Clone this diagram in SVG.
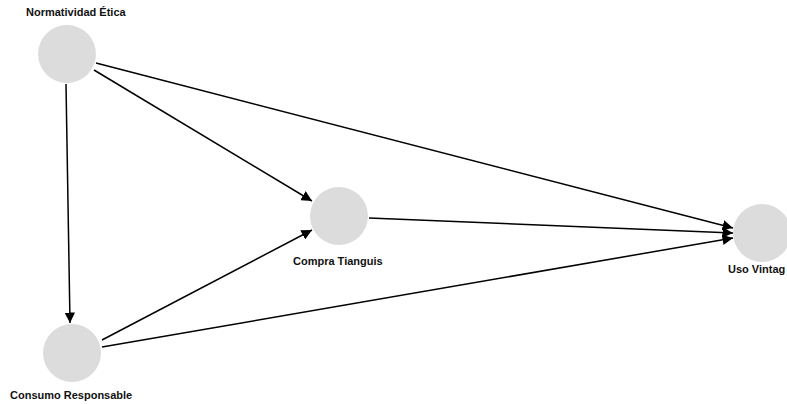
<svg xmlns="http://www.w3.org/2000/svg" width="787" height="404" viewBox="0 0 787 404">
  <style>
    .node { fill: #dcdcdc; }
    .lbl { font-family: "Liberation Sans", Arial, sans-serif; font-size: 11px; font-weight: bold; fill: #111; }
    .edge { stroke: #000; stroke-width: 1.5; fill: none; marker-end: url(#arrow); }
  </style>
  <defs>
    <marker id="arrow" viewBox="0 0 10 10" refX="10" refY="5" markerWidth="7" markerHeight="7" markerUnits="strokeWidth" orient="auto">
      <path d="M0,0 L10,5 L0,10 z" fill="#000"/>
    </marker>
  </defs>
  <rect width="787" height="404" fill="#fff"/>
  <g id="connectors">
    <line class="edge" x1="66" y1="84" x2="70" y2="323"/>
    <line class="edge" x1="94" y1="70" x2="312" y2="201"/>
    <line class="edge" x1="96" y1="63" x2="733" y2="228"/>
    <line class="edge" x1="369" y1="218" x2="733" y2="233"/>
    <line class="edge" x1="102" y1="340" x2="312" y2="230"/>
    <line class="edge" x1="102" y1="347" x2="733" y2="238"/>
  </g>
  <g id="normatividad">
    <circle class="node" cx="67" cy="54" r="29"/>
    <text class="lbl" x="26" y="16">Normatividad Ética</text>
  </g>
  <g id="consumo">
    <circle class="node" cx="72" cy="353" r="29"/>
    <text class="lbl" x="10" y="399">Consumo Responsable</text>
  </g>
  <g id="compra">
    <circle class="node" cx="339" cy="216" r="29"/>
    <text class="lbl" x="293" y="265">Compra Tianguis</text>
  </g>
  <g id="uso">
    <circle class="node" cx="762" cy="233" r="29"/>
    <text class="lbl" x="728" y="273">Uso Vintag</text>
  </g>
</svg>
